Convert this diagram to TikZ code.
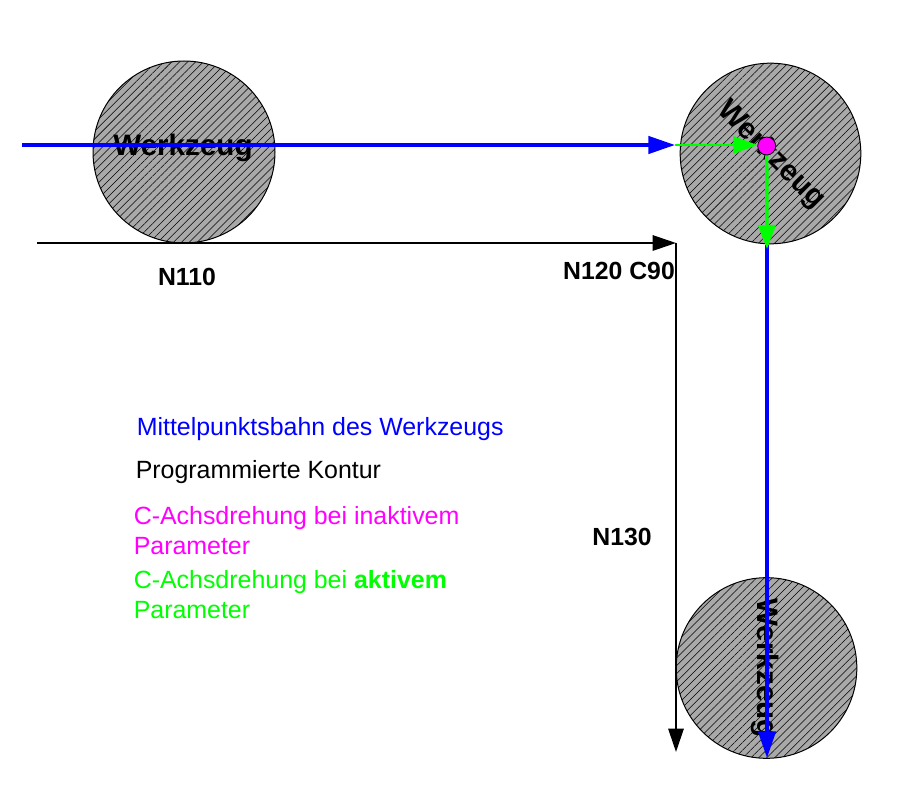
\documentclass[tikz,border=0pt]{standalone}
\usepackage{fontspec}
\setmainfont{Liberation Sans}
\usetikzlibrary{
	arrows.meta,
	patterns.meta
}
\definecolor{werkzeuggrau}{HTML}{A9A9A9}
\definecolor{bahnblau}{HTML}{0000FF}
\definecolor{drehgruen}{HTML}{00FF00}
\definecolor{drehmagenta}{HTML}{FF00FF}
\tikzset{
	x=.75pt,
	y=-.75pt,
	werkzeug/.style={
		circle,
		draw=black,
		line width=.75pt,
		minimum size=135.5pt,
		inner sep=0pt,
		preaction={fill=werkzeuggrau},
		pattern={Lines[angle=45,distance=4.2pt,line width=.4pt]},
		pattern color=black
	},
	werkzeugtext/.style={
		font=\bfseries\fontsize{22.2}{24}\selectfont,
		inner sep=0pt
	},
	satzlabel/.style={
		font=\bfseries\fontsize{18.6}{22}\selectfont,
		inner sep=0pt
	},
	legende/.style={
		font=\fontsize{18.7}{22}\selectfont,
		align=left,
		anchor=west,
		inner sep=0pt
	},
	kontur/.style={
		black,
		line width=1.5pt,
		-{Triangle[length=17.5pt,width=11.5pt]}
	},
	bahn/.style={
		bahnblau,
		line width=2.6pt,
		-{Triangle[length=20pt,width=13pt]}
	},
	drehung/.style={
		drehgruen,
		line width=2.6pt,
		-{Triangle[length=18pt,width=13pt]}
	}
}
\begin{document}
\begin{tikzpicture}
	\useasboundingbox (0,0) rectangle (897,788);
	% werkzeuge
	\node [werkzeug,minimum size=136.5pt] (werkzeugA) at (184,152) {};
	\node [werkzeug] (werkzeugB) at (770.5,153.5) {};
	\node [werkzeug] (werkzeugC) at (766.5,668) {};
	\node [werkzeugtext] (textA) at (183,148) {Werkzeug};
	\node [werkzeugtext,rotate=-45] (textB) at (771,155) {Werkzeug};
	\node [werkzeugtext,rotate=-90] (textC) at (765,668) {Werkzeug};
	% punkte
	\coordinate (konturStart) at (37,243);
	\coordinate (konturEck) at (676,243);
	\coordinate (konturEnde) at (676,752);
	\coordinate (bahnStart) at (22,145);
	\coordinate (bahnEck) at (675,145);
	\coordinate (bahnWeiter) at (767,245);
	\coordinate (bahnEnde) at (767,758);
	\coordinate (drehEnde) at (767,249);
	% kontur
	\draw [kontur] (konturStart) -- (konturEck);
	\draw [kontur] (konturEck) -- (konturEnde);
	% bahn
	\draw [bahn] (bahnStart) -- (bahnEck);
	\draw [bahn] (bahnWeiter) -- (bahnEnde);
	% drehung
	\node [circle,draw=black,line width=.6pt,fill=drehmagenta,minimum size=13.5pt,inner sep=0pt] (drehpunkt) at (766.7,146) {};
	\draw [drehung,line width=1.8pt] (bahnEck) -- (bahnEck -| drehpunkt.west);
	\draw [drehung] (drehpunkt) -- (drehEnde);
	% texte
	\node [satzlabel] (satzA) at (187,277) {N110};
	\node [satzlabel] (satzB) at (619,271) {N120 C90};
	\node [satzlabel] (satzC) at (622,537) {N130};
	\node [legende,bahnblau] (legBahn) at (136.5,429) {Mittelpunktsbahn des Werkzeugs};
	\node [legende] (legKontur) at (135.5,472) {Programmierte Kontur};
	\node [legende,drehmagenta] (legInaktiv) at (133.5,530.5) {C-Achsdrehung bei inaktivem\\Parameter};
	\node [legende,drehgruen] (legAktiv) at (133.5,594.5) {C-Achsdrehung bei \textbf{aktivem}\\Parameter};
\end{tikzpicture}
\end{document}
